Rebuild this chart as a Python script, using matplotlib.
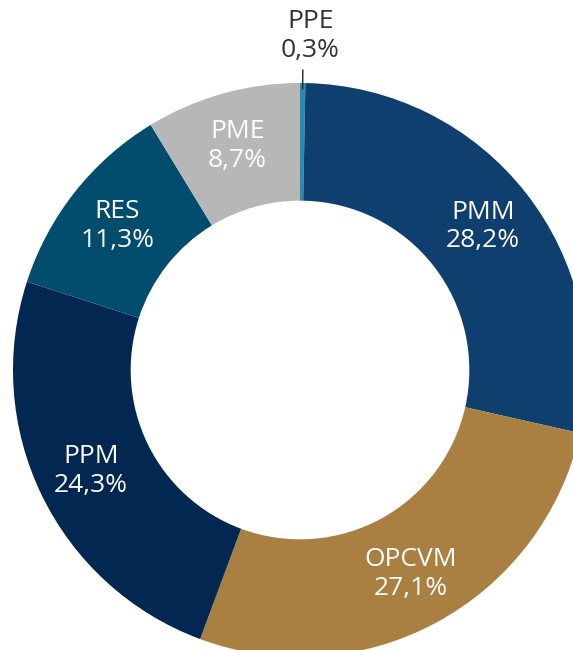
import matplotlib
matplotlib.use('Agg')
import numpy as np
import matplotlib.pyplot as plt

# share of each category, clockwise from 12 o'clock
labels = ['PPE', 'PMM', 'OPCVM', 'PPM', 'RES', 'PME']
values = [0.3, 28.2, 27.1, 24.3, 11.3, 8.7]
value_text = ['0,3%', '28,2%', '27,1%', '24,3%', '11,3%', '8,7%']
colors = ['#2a8db0', '#0e3f6e', '#a98042', '#022851', '#024d6e', '#b8b7b8']

plt.rcParams['font.family'] = ['Open Sans', 'DejaVu Sans']

fig = plt.figure(figsize=(5.73, 6.5), dpi=100)
ax = fig.add_axes([0, 0, 1, 1])

wedges, _ = ax.pie(values, colors=colors, startangle=90, counterclock=False,
                   radius=1.0, wedgeprops=dict(width=0.41, linewidth=0))

# place the donut: centre at (300, 370) px from top-left, outer radius 287 px
r_px = 287.0
cx, cy = 300.0, 370.0
ax.set_xlim(-cx / r_px, (573 - cx) / r_px)
ax.set_ylim(-(650 - cy) / r_px, cy / r_px)
ax.set_aspect('equal')
ax.axis('off')

for i, w in enumerate(wedges):
    ang = np.deg2rad((w.theta1 + w.theta2) / 2)
    txt = labels[i] + '\n' + value_text[i]
    if values[i] < 1:
        # small slice: label outside with a leader line
        ax.plot([np.cos(ang) * 0.98, np.cos(ang) * 1.045], [np.sin(ang) * 0.98, np.sin(ang) * 1.045],
                color='#222222', lw=1)
        ax.text(np.cos(ang) * 1.165 + 0.025, np.sin(ang) * 1.165, txt, ha='center', va='center',
                fontsize=19, color='#333333', linespacing=1.2)
    else:
        d = 0.81
        ax.text(np.cos(ang) * d, np.sin(ang) * d, txt, ha='center', va='center',
                fontsize=19, color='white', linespacing=1.2)

fig.savefig('out.png', dpi=100)
